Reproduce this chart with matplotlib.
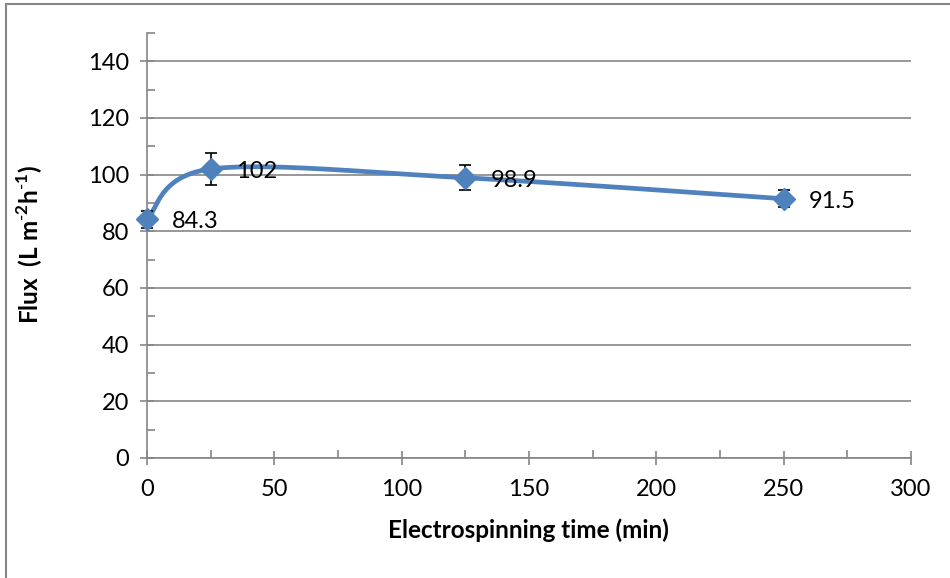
import numpy as np
import matplotlib.pyplot as plt
from matplotlib.patches import Rectangle
from matplotlib.ticker import MultipleLocator

plt.rcParams['font.family'] = ['Lato', 'DejaVu Sans']
plt.rcParams['mathtext.fontset'] = 'custom'
plt.rcParams['mathtext.rm'] = 'Lato'
plt.rcParams['mathtext.bf'] = 'Lato:bold'

time_min = [0, 25, 125, 250]
flux = [84.3, 102, 98.9, 91.5]
flux_err = [3.0, 5.6, 4.4, 3.0]
labels = ['84.3', '102', '98.9', '91.5']


def excel_smooth(x, y, n=60):
    # Bezier smoothing like Excel's "smoothed line"
    p = np.column_stack([x, y]).astype(float)
    pts = []
    for i in range(len(p) - 1):
        p0 = p[i - 1] if i > 0 else p[i]
        p3 = p[i + 2] if i + 2 < len(p) else p[i + 1]
        c1 = p[i] + (p[i + 1] - p0) / 6
        c2 = p[i + 1] - (p3 - p[i]) / 6
        t = np.linspace(0, 1, n)[:, None]
        seg = ((1 - t) ** 3 * p[i] + 3 * (1 - t) ** 2 * t * c1
               + 3 * (1 - t) * t ** 2 * c2 + t ** 3 * p[i + 1])
        pts.append(seg)
    pts = np.vstack(pts)
    return pts[:, 0], pts[:, 1]


fig = plt.figure(figsize=(9.5, 5.78), dpi=100)
fig.patches.append(Rectangle((6 / 950, -0.1), 1.2, 574 / 578 + 0.1,
                             transform=fig.transFigure, fill=False,
                             edgecolor='#868686', linewidth=1.5))
ax = fig.add_axes([147 / 950, 120 / 578, (911 - 147) / 950, (458 - 33) / 578])

sx, sy = excel_smooth(time_min, flux)
ax.plot(sx, sy, color='#4F81BD', linewidth=3.4, zorder=3, clip_on=False)
ax.errorbar(time_min, flux, yerr=flux_err, fmt='none', ecolor='black',
            elinewidth=1.2, capsize=4, capthick=1.2, zorder=4, clip_on=False)
ax.plot(time_min, flux, linestyle='none', marker='D', markersize=11,
        color='#4F81BD', zorder=5, clip_on=False)
for x, y, s in zip(time_min, flux, labels):
    ax.annotate(s, (x, y), xytext=(18, -2), textcoords='offset points',
                va='center', ha='left', fontsize=17, zorder=6)

ax.set_xlim(0, 300)
ax.set_ylim(0, 150)
ax.xaxis.set_major_locator(MultipleLocator(50))
ax.xaxis.set_minor_locator(MultipleLocator(25))
ax.yaxis.set_minor_locator(MultipleLocator(10))
ax.set_yticks(np.arange(0, 141, 20))
ax.grid(axis='y', which='major', color='#868686', linewidth=1.2)
ax.set_axisbelow(True)

for side in ['top', 'right']:
    ax.spines[side].set_visible(False)
for side in ['left', 'bottom']:
    ax.spines[side].set_color('#868686')
    ax.spines[side].set_linewidth(1.2)
ax.tick_params(which='major', direction='inout', length=10, width=1.2,
               color='#868686', labelsize=17)
ax.tick_params(axis='x', which='major', pad=10)
ax.tick_params(axis='y', which='major', pad=8)
ax.tick_params(which='minor', direction='in', length=6, width=1.2,
               color='#868686')

ax.set_xlabel('Electrospinning time (min)', fontsize=17.5, fontweight='bold')
ax.set_ylabel('Flux  (L m$^{\\mathbf{\\text{-}2}}$h$^{\\mathbf{\\text{-}1}}$)',
              fontsize=17.5, fontweight='bold')
ax.xaxis.set_label_coords((528 - 147) / 764, (458 - 530) / 425)
ax.yaxis.set_label_coords((30 - 147) / 764, (458 - 245) / 425)
ax.xaxis.label.set_va('center')
ax.yaxis.label.set_va('center')

fig.savefig('out.png', dpi=100)
